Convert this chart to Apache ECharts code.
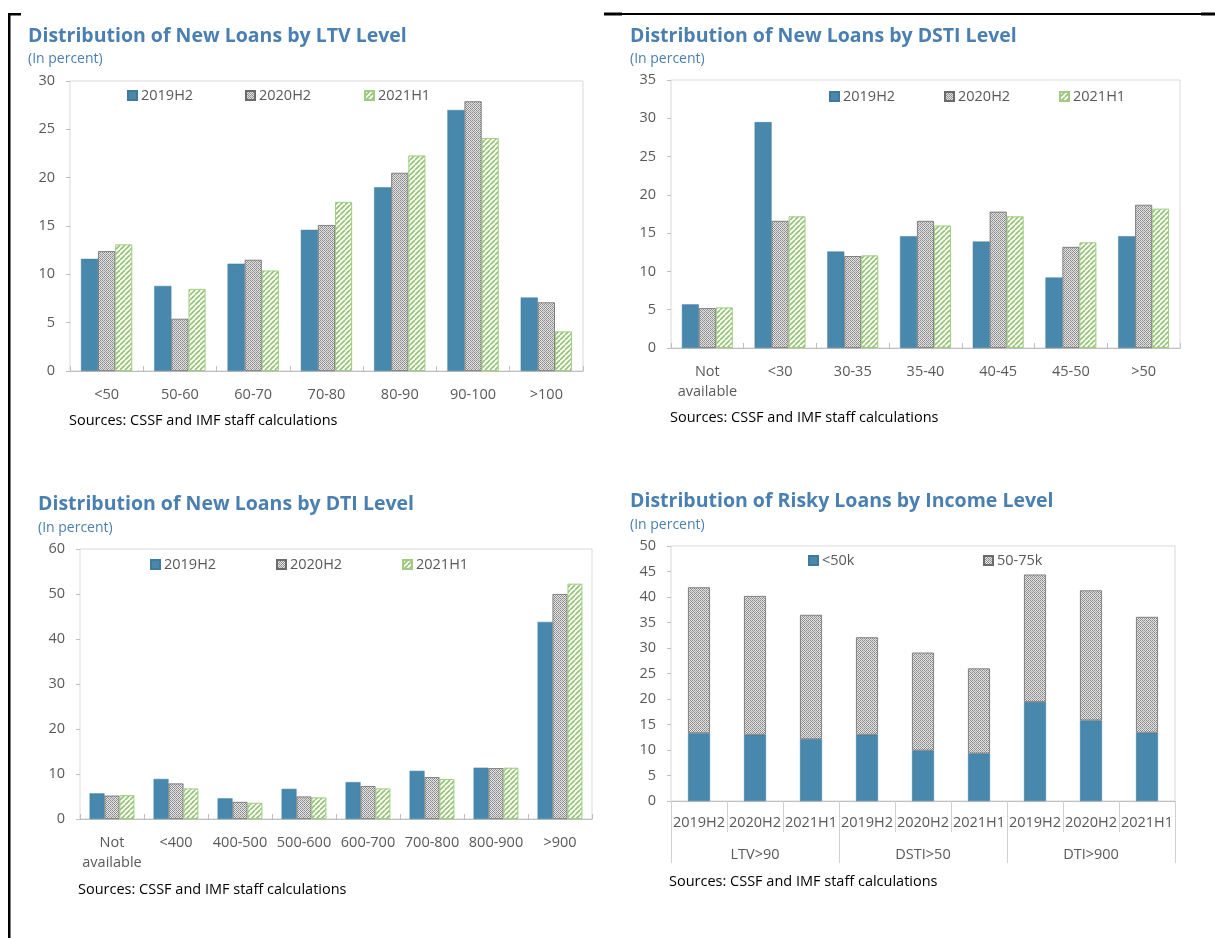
<!DOCTYPE html>
<html>
<head>
<meta charset="utf-8">
<script src="https://cdn.jsdelivr.net/npm/echarts@6/dist/echarts.min.js"></script>
<style>
html,body{margin:0;padding:0;background:#fff}
#c{width:1215px;height:938px}
</style>
</head>
<body>
<div id="c"></div>
<script>
// ---- data ----
const periodNames = ['2019H2', '2020H2', '2021H1'];

const ltvCats = ['<50', '50-60', '60-70', '70-80', '80-90', '90-100', '>100'];
const ltv2019H2 = [11.6, 8.8, 11.1, 14.6, 19.0, 27.0, 7.6];
const ltv2020H2 = [12.4, 5.4, 11.5, 15.1, 20.5, 27.9, 7.1];
const ltv2021H1 = [13.1, 8.5, 10.4, 17.5, 22.3, 24.1, 4.1];

const dstiCats = ['Not\navailable', '<30', '30-35', '35-40', '40-45', '45-50', '>50'];
const dsti2019H2 = [5.7, 29.5, 12.6, 14.6, 13.9, 9.2, 14.6];
const dsti2020H2 = [5.2, 16.6, 12.0, 16.6, 17.8, 13.2, 18.7];
const dsti2021H1 = [5.3, 17.2, 12.1, 16.0, 17.2, 13.8, 18.2];

const dtiCats = ['Not\navailable', '<400', '400-500', '500-600', '600-700', '700-800', '800-900', '>900'];
const dti2019H2 = [5.7, 8.9, 4.6, 6.7, 8.2, 10.7, 11.4, 43.8];
const dti2020H2 = [5.2, 7.9, 3.8, 5.0, 7.3, 9.3, 11.3, 50.0];
const dti2021H1 = [5.3, 6.8, 3.6, 4.8, 6.8, 8.9, 11.4, 52.3];

const riskyPeriods = ['2019H2', '2020H2', '2021H1', '2019H2', '2020H2', '2021H1', '2019H2', '2020H2', '2021H1'];
const riskyGroups = ['LTV>90', 'DSTI>50', 'DTI>900'];
const incomeNames = ['<50k', '50-75k'];
const incomeBelow50k = [13.3, 13.0, 12.1, 13.0, 9.9, 9.3, 19.4, 15.8, 13.4];
const income50to75k = [28.6, 27.2, 24.4, 19.1, 19.2, 16.7, 25.0, 25.5, 22.7];

const titles = [
  'Distribution of New Loans by LTV Level',
  'Distribution of New Loans by DSTI Level',
  'Distribution of New Loans by DTI Level',
  'Distribution of Risky Loans by Income Level'
];
const subtitle = '(In percent)';
const sourceNote = 'Sources: CSSF and IMF staff calculations';

// ---- styles ----
const FONT = 'Open Sans';
const BLUE = '#4888ad';
const TITLE_BLUE = '#4a7fb1';
const LABEL = '#595959';
const AXIS = '#bfbfbf';
const FS = 14.5;

// fine grey cross-hatch fill
function greyPattern() {
  const c = document.createElement('canvas');
  c.width = 4; c.height = 4;
  const g = c.getContext('2d');
  g.fillStyle = '#e2e2e2';
  g.fillRect(0, 0, 4, 4);
  g.fillStyle = '#8a8a8a';
  [[0,0],[2,2],[1,3],[3,1],[2,0],[0,2]].forEach(p => g.fillRect(p[0], p[1], 1, 1));
  g.fillStyle = '#b5b5b5';
  [[1,1],[3,3]].forEach(p => g.fillRect(p[0], p[1], 1, 1));
  return { image: c, repeat: 'repeat' };
}
// light green diagonal hatch fill
function greenPattern() {
  const s = 5;
  const c = document.createElement('canvas');
  c.width = s; c.height = s;
  const g = c.getContext('2d');
  g.fillStyle = '#ffffff';
  g.fillRect(0, 0, s, s);
  g.strokeStyle = '#92c46f';
  g.lineWidth = 1.6;
  for (let i = -s; i <= s; i += s) {
    g.beginPath();
    g.moveTo(i, s);
    g.lineTo(i + s, 0);
    g.stroke();
  }
  return { image: c, repeat: 'repeat' };
}
const GREY = greyPattern();
const GREEN = greenPattern();

const styleBlue = { color: BLUE, borderColor: '#3f7a9c', borderWidth: 0.5 };
const styleGrey = { color: GREY, borderColor: '#6a6a6a', borderWidth: 0.8 };
const styleGreen = { color: GREEN, borderColor: '#9fcc82', borderWidth: 1 };

// ---- layout helpers ----
const grids = [
  { left: 70, right: 1215 - 583, top: 81, bottom: 938 - 371 },
  { left: 671, right: 1215 - 1180, top: 80, bottom: 938 - 348 },
  { left: 80, right: 1215 - 592, top: 549, bottom: 938 - 819 },
  { left: 671, right: 1215 - 1175, top: 546, bottom: 938 - 801 }
];
grids.forEach(g => { g.show = true; g.borderColor = '#d9d9d9'; g.borderWidth = 1; g.backgroundColor = 'transparent'; });

function yAxis(gi, max, interval) {
  return {
    type: 'value', gridIndex: gi, min: 0, max: max, interval: interval,
    axisLine: { show: false },
    axisTick: { show: true, length: 4, lineStyle: { color: AXIS } },
    splitLine: { show: false },
    axisLabel: { color: LABEL, fontSize: FS, fontFamily: FONT, margin: 15 }
  };
}
function xAxis(gi, cats) {
  return {
    type: 'category', gridIndex: gi, data: cats,
    axisLine: { lineStyle: { color: AXIS, width: 1.2 } },
    axisTick: { show: true, inside: true, length: 5, interval: 0, lineStyle: { color: AXIS } },
    axisLabel: { color: LABEL, fontSize: FS, fontFamily: FONT, margin: 14, interval: 0, lineHeight: 20 }
  };
}
function legendItem(name, left, top) {
  return {
    data: [name], left: left, top: top, padding: 0, itemGap: 0,
    itemWidth: 9, itemHeight: 9, icon: 'rect', selectedMode: false,
    textStyle: { color: LABEL, fontSize: FS, fontFamily: FONT, padding: [0, 0, 0, -1] }
  };
}
function titleAt(text, left, top) {
  return { text: text, left: left, top: top, padding: 0,
    textStyle: { color: TITLE_BLUE, fontSize: 19.5, fontWeight: 'bold', fontFamily: FONT } };
}
function subAt(left, top) {
  return { text: subtitle, left: left, top: top, padding: 0,
    textStyle: { color: TITLE_BLUE, fontSize: 14, fontWeight: 'normal', fontFamily: FONT } };
}
function barGroup(gi, a, b, c) {
  const common = { type: 'bar', xAxisIndex: gi, yAxisIndex: gi, barGap: '0%', barCategoryGap: '30%' };
  return [
    Object.assign({ name: periodNames[0], data: a, itemStyle: styleBlue }, common),
    Object.assign({ name: periodNames[1], data: b, itemStyle: styleGrey }, common),
    Object.assign({ name: periodNames[2], data: c, itemStyle: styleGreen }, common)
  ];
}

const series = [].concat(
  barGroup(0, ltv2019H2, ltv2020H2, ltv2021H1),
  barGroup(1, dsti2019H2, dsti2020H2, dsti2021H1),
  barGroup(2, dti2019H2, dti2020H2, dti2021H1),
  [
    { name: incomeNames[0], type: 'bar', stack: 'inc', xAxisIndex: 3, yAxisIndex: 3,
      barWidth: 22, data: incomeBelow50k, itemStyle: styleBlue },
    { name: incomeNames[1], type: 'bar', stack: 'inc', xAxisIndex: 3, yAxisIndex: 3,
      barWidth: 22, data: income50to75k, itemStyle: styleGrey }
  ]
);

const riskyAxis = {
  type: 'category', gridIndex: 3, data: riskyPeriods,
  axisLine: { lineStyle: { color: AXIS, width: 1.2 } },
  axisTick: { show: true, length: 31, interval: 0, lineStyle: { color: '#d0d0d0' } },
  axisLabel: { color: LABEL, fontSize: FS, fontFamily: FONT, margin: 14, interval: 0 }
};
// outer row of the two-level axis: one label per ratio group
const groupAxis = {
  type: 'category', gridIndex: 3, data: riskyGroups, position: 'bottom',
  axisLine: { show: false },
  axisTick: { show: true, length: 62, interval: 0, lineStyle: { color: '#d0d0d0' } },
  axisLabel: { color: LABEL, fontSize: FS, fontFamily: FONT, margin: 46, interval: 0 }
};

function frameRect(x, y, w, h) {
  return { type: 'rect', shape: { x: x, y: y, width: w, height: h }, style: { fill: '#000' }, silent: true };
}
function note(x, y) {
  return { type: 'text', x: x, y: y, silent: true,
    style: { text: sourceNote, fill: '#000', fontSize: FS, fontFamily: FONT, verticalAlign: 'middle' } };
}

const option = {
  animation: false,
  backgroundColor: '#fff',
  title: [
    titleAt(titles[0], 28, 26), subAt(28, 52),
    titleAt(titles[1], 630, 26), subAt(630, 52),
    titleAt(titles[2], 38, 494), subAt(38, 521),
    titleAt(titles[3], 630, 491), subAt(630, 518)
  ],
  legend: [
    legendItem(periodNames[0], 127, 88), legendItem(periodNames[1], 245, 88), legendItem(periodNames[2], 364, 88),
    legendItem(periodNames[0], 829, 89), legendItem(periodNames[1], 944, 89), legendItem(periodNames[2], 1059, 89),
    legendItem(periodNames[0], 150, 557), legendItem(periodNames[1], 276, 557), legendItem(periodNames[2], 402, 557),
    legendItem(incomeNames[0], 808, 553), legendItem(incomeNames[1], 983, 553)
  ],
  grid: grids,
  xAxis: [xAxis(0, ltvCats), xAxis(1, dstiCats), xAxis(2, dtiCats), riskyAxis, groupAxis],
  yAxis: [yAxis(0, 30, 5), yAxis(1, 35, 5), yAxis(2, 60, 10), yAxis(3, 50, 5)],
  series: series,
  graphic: [
    frameRect(8, 13, 2.5, 925),
    frameRect(8, 13, 13, 2.5),
    frameRect(604, 13, 611, 2),
    frameRect(604, 12.5, 18, 3),
    frameRect(1201, 12.5, 14, 3),
    note(69, 421),
    note(670, 418),
    note(78, 890),
    note(669, 882)
  ]
};

const chart = echarts.init(document.getElementById('c'), null, { renderer: 'canvas' });
chart.setOption(option);
</script>
</body>
</html>
